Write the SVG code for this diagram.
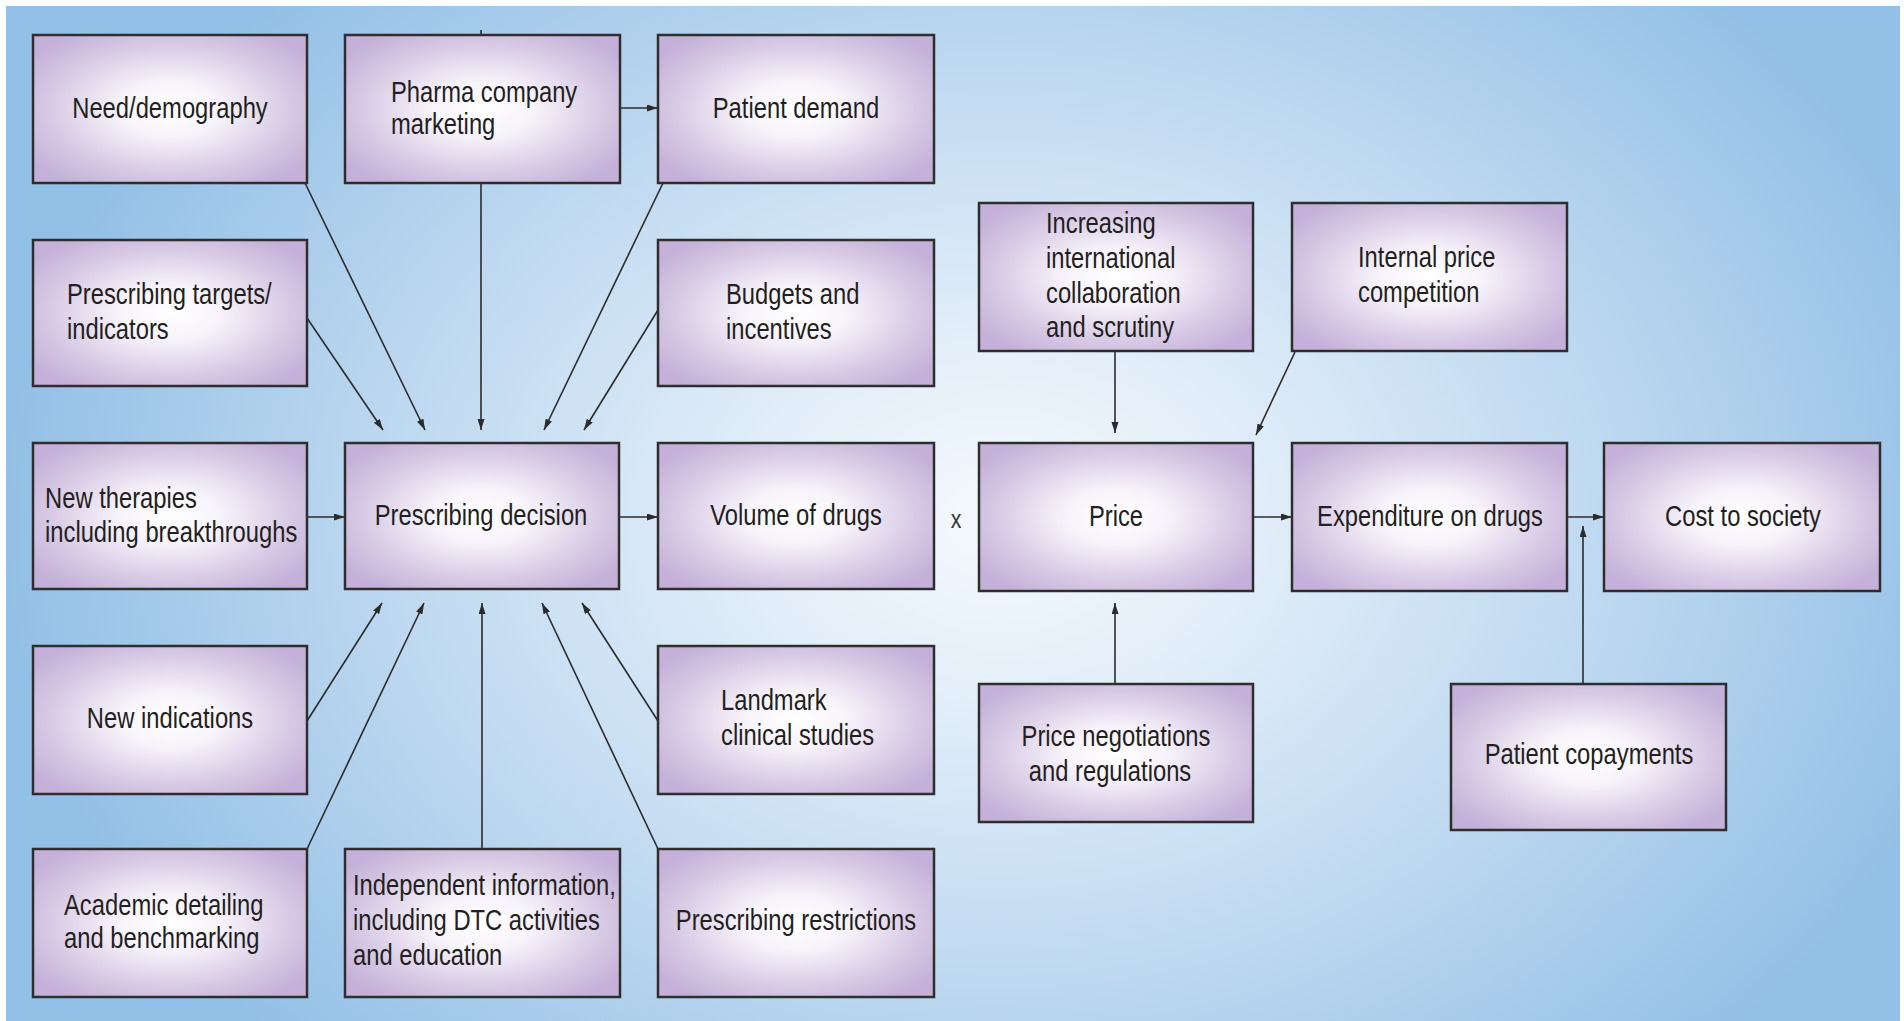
<svg xmlns="http://www.w3.org/2000/svg" width="1904" height="1021" viewBox="0 0 1904 1021">
<defs>
<radialGradient id="bg" gradientUnits="userSpaceOnUse" cx="1000" cy="520" r="1000" gradientTransform="translate(1000 520) scale(1 0.75) translate(-1000 -520)">
<stop offset="0" stop-color="#f5f9fd"/>
<stop offset="0.25" stop-color="#e2eef9"/>
<stop offset="0.65" stop-color="#bad6ef"/>
<stop offset="1" stop-color="#93c0e6"/>
</radialGradient>
<radialGradient id="box" cx="0.5" cy="0.5" r="0.62">
<stop offset="0" stop-color="#ffffff"/>
<stop offset="0.3" stop-color="#f7f3fa"/>
<stop offset="0.7" stop-color="#d8cae5"/>
<stop offset="1" stop-color="#c4b0d8"/>
</radialGradient>
<marker id="ah" markerUnits="userSpaceOnUse" markerWidth="12" markerHeight="8" refX="11" refY="3.5" orient="auto">
<path d="M0,0 L11,3.5 L0,7 z" fill="#2b2b2b"/>
</marker>
</defs>
<style>
.n rect{fill:url(#box);stroke:#2e2e2e;stroke-width:2.5}
.n text{font-family:"Liberation Sans",Arial,sans-serif;font-size:29px;fill:#231f20}
.c{text-anchor:middle}
#connectors line{stroke:#2b2b2b;stroke-width:1.6;marker-end:url(#ah)}
</style>
<rect x="0" y="0" width="1904" height="1021" fill="#ffffff"/>
<rect x="6" y="6" width="1894" height="1015" fill="url(#bg)"/>

<g id="connectors">
<line x1="620" y1="108" x2="658" y2="108"/>
<line x1="307" y1="517" x2="345" y2="517"/>
<line x1="619" y1="517" x2="658" y2="517"/>
<line x1="1253" y1="517" x2="1292" y2="517"/>
<line x1="1567" y1="517" x2="1604" y2="517"/>
<line x1="1583" y1="684" x2="1583" y2="526"/>
<line x1="1115" y1="352" x2="1115" y2="433"/>
<line x1="1295" y1="352" x2="1256" y2="435"/>
<line x1="1115" y1="684" x2="1115" y2="603"/>
<line x1="305" y1="183" x2="425" y2="430"/>
<line x1="307" y1="318" x2="383" y2="430"/>
<line x1="481" y1="183" x2="481" y2="430"/>
<line x1="663" y1="183" x2="544" y2="430"/>
<line x1="658" y1="310" x2="584" y2="430"/>
<line x1="307" y1="721" x2="382" y2="603"/>
<line x1="307" y1="849" x2="424" y2="603"/>
<line x1="482" y1="849" x2="482" y2="603"/>
<line x1="658" y1="721" x2="582" y2="603"/>
<line x1="658" y1="849" x2="542" y2="603"/>
<path d="M481,30 L481,35" stroke="#2b2b2b" stroke-width="1.6"/>
</g>

<g id="need" class="n"><rect x="33" y="35" width="274" height="148"/><text class="c" transform="translate(170 118) scale(0.82 1)">Need/demography</text></g>
<g id="pharma" class="n"><rect x="345" y="35" width="275" height="148"/><text transform="translate(391 102) scale(0.82 1)">Pharma company</text><text transform="translate(391 134) scale(0.82 1)">marketing</text></g>
<g id="patient-demand" class="n"><rect x="658" y="35" width="276" height="148"/><text class="c" transform="translate(796 118) scale(0.82 1)">Patient demand</text></g>
<g id="targets" class="n"><rect x="33" y="240" width="274" height="146"/><text transform="translate(67 304) scale(0.82 1)">Prescribing targets/</text><text transform="translate(67 339) scale(0.82 1)">indicators</text></g>
<g id="budgets" class="n"><rect x="658" y="240" width="276" height="146"/><text transform="translate(726 304) scale(0.82 1)">Budgets and</text><text transform="translate(726 339) scale(0.82 1)">incentives</text></g>
<g id="increasing" class="n"><rect x="979" y="203" width="274" height="148"/><text transform="translate(1046 233) scale(0.82 1)">Increasing</text><text transform="translate(1046 268) scale(0.82 1)">international</text><text transform="translate(1046 303) scale(0.82 1)">collaboration</text><text transform="translate(1046 337) scale(0.82 1)">and scrutiny</text></g>
<g id="internal" class="n"><rect x="1292" y="203" width="275" height="148"/><text transform="translate(1358 267) scale(0.82 1)">Internal price</text><text transform="translate(1358 302) scale(0.82 1)">competition</text></g>
<g id="new-therapies" class="n"><rect x="33" y="443" width="274" height="146"/><text transform="translate(45 508) scale(0.82 1)">New therapies</text><text transform="translate(45 542) scale(0.82 1)">including breakthroughs</text></g>
<g id="decision" class="n"><rect x="345" y="443" width="274" height="146"/><text class="c" transform="translate(481 525) scale(0.82 1)">Prescribing decision</text></g>
<g id="volume" class="n"><rect x="658" y="443" width="276" height="146"/><text class="c" transform="translate(796 525) scale(0.82 1)">Volume of drugs</text></g>
<text transform="translate(956 528) scale(0.82 1)" font-family="Liberation Sans,sans-serif" font-size="26" fill="#333" text-anchor="middle">x</text>
<g id="price" class="n"><rect x="979" y="443" width="274" height="148"/><text class="c" transform="translate(1116 526) scale(0.82 1)">Price</text></g>
<g id="expenditure" class="n"><rect x="1292" y="443" width="275" height="148"/><text class="c" transform="translate(1430 526) scale(0.82 1)">Expenditure on drugs</text></g>
<g id="cost" class="n"><rect x="1604" y="443" width="276" height="148"/><text class="c" transform="translate(1743 526) scale(0.82 1)">Cost to society</text></g>
<g id="new-indications" class="n"><rect x="33" y="646" width="274" height="148"/><text class="c" transform="translate(170 728) scale(0.82 1)">New indications</text></g>
<g id="landmark" class="n"><rect x="658" y="646" width="276" height="148"/><text transform="translate(721 710) scale(0.82 1)">Landmark</text><text transform="translate(721 745) scale(0.82 1)">clinical studies</text></g>
<g id="negotiations" class="n"><rect x="979" y="684" width="274" height="138"/><text class="c" transform="translate(1116 746) scale(0.82 1)">Price negotiations</text><text class="c" transform="translate(1110 781) scale(0.82 1)">and regulations</text></g>
<g id="copayments" class="n"><rect x="1451" y="684" width="275" height="146"/><text class="c" transform="translate(1589 764) scale(0.82 1)">Patient copayments</text></g>
<g id="academic" class="n"><rect x="33" y="849" width="274" height="148"/><text transform="translate(64 915) scale(0.82 1)">Academic detailing</text><text transform="translate(64 948) scale(0.82 1)">and benchmarking</text></g>
<g id="independent" class="n"><rect x="345" y="849" width="275" height="148"/><text transform="translate(353 895) scale(0.82 1)">Independent information,</text><text transform="translate(353 930) scale(0.82 1)">including DTC activities</text><text transform="translate(353 965) scale(0.82 1)">and education</text></g>
<g id="restrictions" class="n"><rect x="658" y="849" width="276" height="148"/><text class="c" transform="translate(796 930) scale(0.82 1)">Prescribing restrictions</text></g>
</svg>
